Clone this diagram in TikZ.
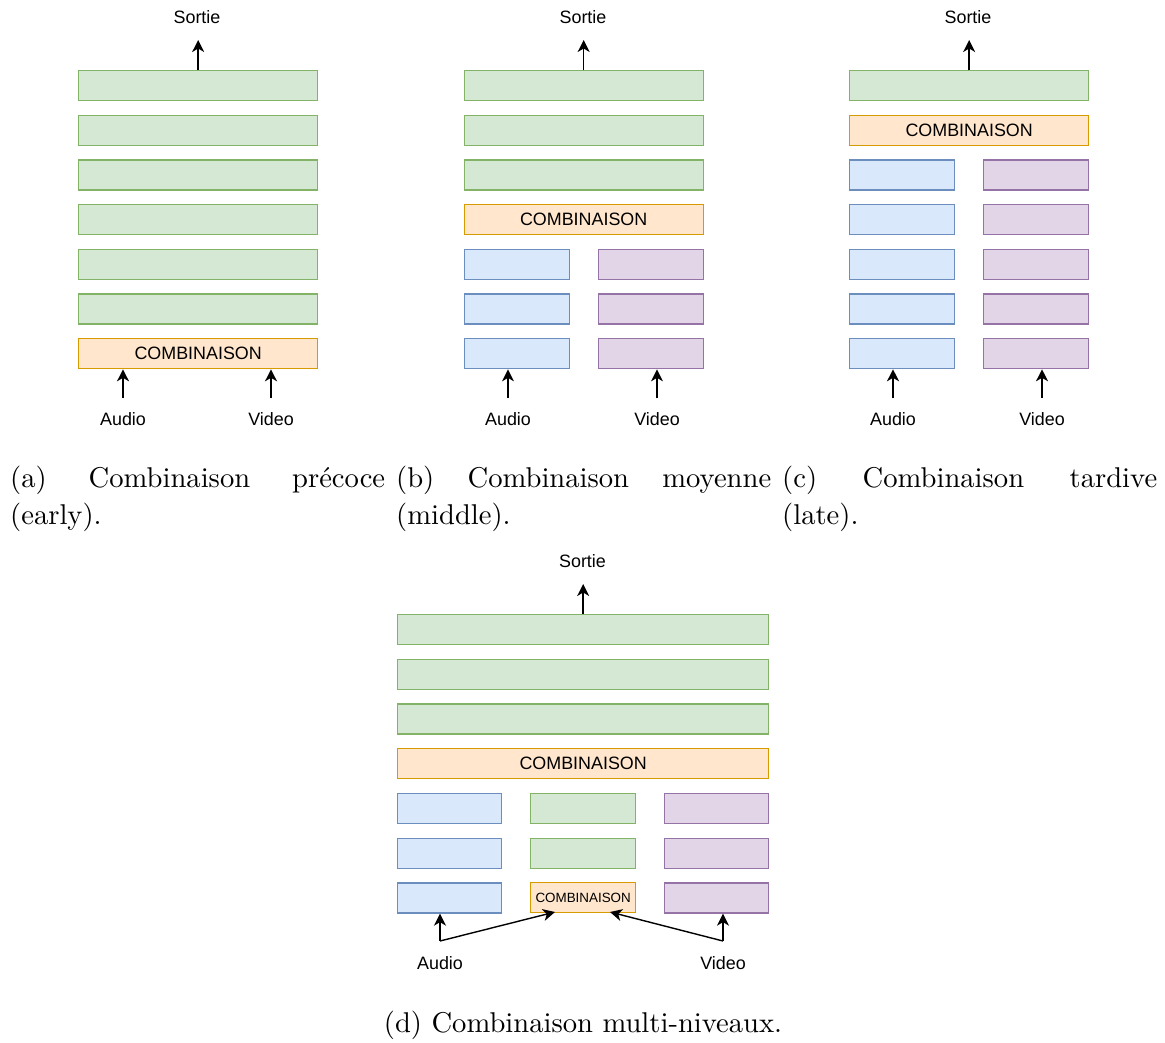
\documentclass[tikz,border=0pt]{standalone}
\usepackage{fontspec}
\newfontfamily\boxfont{Liberation Sans}
\newfontfamily\captfont{lmroman10-regular.otf}
\usetikzlibrary{arrows.meta}
\definecolor{greenfill}{HTML}{D5E8D4}
\definecolor{greenline}{HTML}{82B366}
\definecolor{bluefill}{HTML}{DAE8FC}
\definecolor{blueline}{HTML}{6C8EBF}
\definecolor{purplefill}{HTML}{E1D5E7}
\definecolor{purpleline}{HTML}{9673A6}
\definecolor{orangefill}{HTML}{FFE6CC}
\definecolor{orangeline}{HTML}{D79B00}
\tolerance=10000
\hyphenpenalty=10000
\tikzset{
  layer/.style={draw,line width=1.3pt,minimum height=30pt,inner sep=0pt,anchor=north west,
    font=\boxfont\fontsize{17.9}{20}\selectfont},
  greenlayer/.style={layer,fill=greenfill,draw=greenline},
  bluelayer/.style={layer,fill=bluefill,draw=blueline},
  purplelayer/.style={layer,fill=purplefill,draw=purpleline},
  mixlayer/.style={layer,fill=orangefill,draw=orangeline},
  lbl/.style={font=\boxfont\fontsize{17.9}{20}\selectfont,inner sep=0pt},
  flow/.style={line width=1.4pt,-{Stealth[length=12pt,width=12pt,inset=3.5pt]}},
  capt/.style={text width=375pt,align=justify,inner sep=0pt,anchor=north west,
    font=\captfont\fontsize{28.6}{37}\selectfont}
}
\begin{document}
\begin{tikzpicture}[x=1pt,y=-1pt]
  \useasboundingbox (0,0) rectangle (1165,1042);
  \def\h{44.67}
  %% (a) early
  \foreach \i in {0,...,5}
    \node[greenlayer,minimum width=239pt] (a\i) at (78,70+\i*\h) {};
  \node[mixlayer,minimum width=239pt] (amix) at (78,338) {COMBINAISON};
  \node[lbl] (aout) at (197,17) {Sortie};
  \node[lbl] (aaudio) at (123,419) {Audio};
  \node[lbl] (avideo) at (271,419) {Video};
  \draw[flow] (a0.north) -- ++(0,-30);
  \coordinate (aa) at (123,398);
  \coordinate (av) at (271,398);
  \draw[flow] (aa) -- (amix.south -| aa);
  \draw[flow] (av) -- (amix.south -| av);
  \node[capt] (acap) at (10,466) {(a) Combinaison précoce (early).};
  %% (b) middle
  \foreach \i in {0,...,2}
    \node[greenlayer,minimum width=239pt] (b\i) at (463.5,70+\i*\h) {};
  \node[mixlayer,minimum width=239pt] (bmix) at (463.5,204) {COMBINAISON};
  \foreach \i in {0,...,2} {
    \node[bluelayer,minimum width=105pt] (bb\i) at (463.5,248.7+\i*\h) {};
    \node[purplelayer,minimum width=105pt] (bp\i) at (597.5,248.7+\i*\h) {};
  }
  \node[lbl] (bout) at (583,17) {Sortie};
  \node[lbl] (baudio) at (508,419) {Audio};
  \node[lbl] (bvideo) at (657,419) {Video};
  \draw[flow] (b0.north) -- ++(0,-30);
  \coordinate (ba) at (508,398);
  \coordinate (bv) at (657,398);
  \draw[flow] (ba) -- (bb2.south -| ba);
  \draw[flow] (bv) -- (bp2.south -| bv);
  \node[capt] (bcap) at (396,466) {(b) Combinaison moyenne (middle).};
  %% (c) late
  \node[greenlayer,minimum width=239pt] (c0) at (849,70) {};
  \node[mixlayer,minimum width=239pt] (cmix) at (849,114.7) {COMBINAISON};
  \foreach \i in {0,...,4} {
    \node[bluelayer,minimum width=105pt] (cb\i) at (849,159.3+\i*\h) {};
    \node[purplelayer,minimum width=105pt] (cp\i) at (983,159.3+\i*\h) {};
  }
  \node[lbl] (cout) at (968,17) {Sortie};
  \node[lbl] (caudio) at (893,419) {Audio};
  \node[lbl] (cvideo) at (1042,419) {Video};
  \draw[flow] (c0.north) -- ++(0,-30);
  \coordinate (ca) at (893,398);
  \coordinate (cv) at (1042,398);
  \draw[flow] (ca) -- (cb4.south -| ca);
  \draw[flow] (cv) -- (cp4.south -| cv);
  \node[capt] (ccap) at (782,466) {(c) Combinaison tardive (late).};
  %% (d) multi-level
  \foreach \i in {0,...,2}
    \node[greenlayer,minimum width=371pt] (d\i) at (397,614+\i*\h) {};
  \node[mixlayer,minimum width=371pt] (dmix) at (397,748) {COMBINAISON};
  \foreach \i in {0,...,2} {
    \node[bluelayer,minimum width=104pt] (db\i) at (397,793+\i*\h) {};
    \node[purplelayer,minimum width=104pt] (dp\i) at (664,793+\i*\h) {};
  }
  \foreach \i in {0,1}
    \node[greenlayer,minimum width=105pt] (dg\i) at (530,793+\i*\h) {};
  \node[mixlayer,minimum width=105pt,font=\boxfont\fontsize{13.4}{16}\selectfont] (dmix2) at (530,882) {COMBINAISON};
  \node[lbl] (dout) at (582.5,561) {Sortie};
  \node[lbl] (daudio) at (440,963) {Audio};
  \node[lbl] (dvideo) at (723,963) {Video};
  \draw[flow] (d0.north) -- ++(0,-30);
  \coordinate (da) at (440,941);
  \coordinate (dv) at (723,941);
  \draw[flow] (da) -- (db2.south -| da);
  \draw[flow] (da) -- (555,912);
  \draw[flow] (dv) -- (dp2.south -| dv);
  \draw[flow] (dv) -- (610,912);
  \node[font=\captfont\fontsize{28.6}{37}\selectfont,inner sep=0pt] (dcap) at (583,1025) {(d) Combinaison multi-niveaux.};
\end{tikzpicture}
\end{document}
